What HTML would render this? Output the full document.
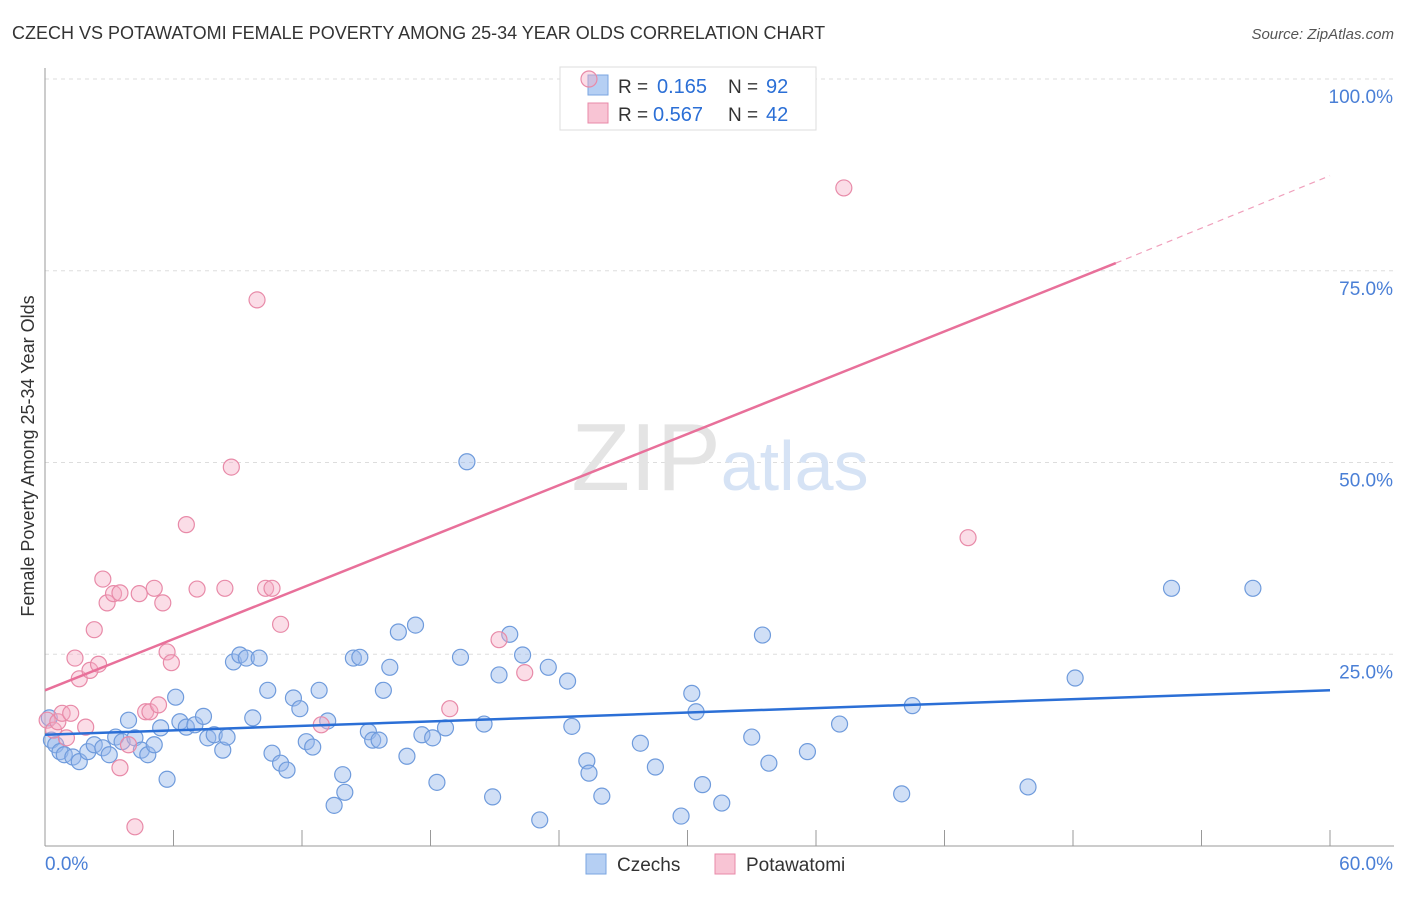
<!DOCTYPE html>
<html><head><meta charset="utf-8">
<style>
body{margin:0;background:#fff;font-family:"Liberation Sans",sans-serif;}
svg text{font-family:"Liberation Sans",sans-serif;}
</style></head>
<body>
<svg id="chart" width="1406" height="892" xmlns="http://www.w3.org/2000/svg">
<text x="12" y="39" font-size="18" fill="#333">CZECH VS POTAWATOMI FEMALE POVERTY AMONG 25-34 YEAR OLDS CORRELATION CHART</text>
<text x="1394" y="39" font-size="15" fill="#555" text-anchor="end" font-style="italic">Source: ZipAtlas.com</text>
<g id="grid"></g>
<g id="axes"></g>
<text x="720" y="490" font-size="96" text-anchor="middle" fill="#e4e4e4" font-family="Liberation Serif">ZIP<tspan fill="#d6e3f5" font-family="Liberation Sans" font-size="70">atlas</tspan></text>
<g>
<rect x="560" y="67" width="256" height="63" fill="#fff" stroke="#ddd"/>
<rect x="588" y="75" width="20" height="20" fill="#b5cff3" stroke="#7aa6e0"/>
<rect x="588" y="103" width="20" height="20" fill="#f8c4d4" stroke="#e88aa8"/>
<text x="618" y="93" font-size="19" fill="#333">R =</text>
<text x="657" y="93" font-size="20" fill="#2b6fd6">0.165</text>
<text x="728" y="93" font-size="19" fill="#333">N =</text>
<text x="766" y="93" font-size="20" fill="#2b6fd6">92</text>
<text x="618" y="121" font-size="19" fill="#333">R =</text>
<text x="653" y="121" font-size="20" fill="#2b6fd6">0.567</text>
<text x="728" y="121" font-size="19" fill="#333">N =</text>
<text x="766" y="121" font-size="20" fill="#2b6fd6">42</text>
</g>
<g id="points"></g>
<g id="lines"></g>
<text transform="translate(34,456) rotate(-90)" font-size="18" fill="#333" text-anchor="middle">Female Poverty Among 25-34 Year Olds</text>
<g>
<rect x="586" y="854" width="20" height="20" fill="#b5cff3" stroke="#7aa6e0"/>
<text x="617" y="871" font-size="19" fill="#333">Czechs</text>
<rect x="715" y="854" width="20" height="20" fill="#f8c4d4" stroke="#e88aa8"/>
<text x="746" y="871" font-size="19" fill="#333">Potawatomi</text>
</g>
</svg>
<script>
const czX=[0.2,0.3,0.5,0.7,0.9,1.3,1.6,2.0,2.3,2.7,3.0,3.3,3.6,3.9,4.2,4.5,4.8,5.1,5.4,5.7,6.1,6.3,6.6,7.0,7.4,7.6,7.9,8.3,8.5,8.8,9.1,9.4,9.7,10.0,10.4,10.6,11.0,11.3,11.6,11.9,12.2,12.5,12.8,13.2,13.5,13.9,14.0,14.4,14.7,15.1,15.3,15.6,15.8,16.1,16.5,16.9,17.3,17.6,18.1,18.3,18.7,19.4,19.7,20.5,20.9,21.2,21.7,22.3,23.1,23.5,24.4,24.6,25.3,25.4,26.0,27.8,28.5,29.7,30.2,30.4,30.7,31.6,33.0,33.5,33.8,35.6,37.1,40.0,40.5,45.9,48.1,52.6,56.4];
const czY=[16.7,13.8,13.2,12.3,11.9,11.6,11.0,12.3,13.2,12.8,11.9,14.2,13.6,16.4,14.1,12.5,11.9,13.2,15.4,8.7,19.4,16.2,15.5,15.8,16.9,14.1,14.5,12.5,14.2,24.0,24.9,24.5,16.7,24.5,20.3,12.1,10.8,9.9,19.3,17.9,13.6,12.9,20.3,16.3,5.3,9.3,7.0,24.5,24.6,14.9,13.8,13.8,20.3,23.3,27.9,11.7,28.8,14.5,14.1,8.3,15.4,24.6,50.1,15.9,6.4,22.3,27.6,24.9,3.4,23.3,21.5,15.6,11.1,9.5,6.5,13.4,10.3,3.9,19.9,17.5,8.0,5.6,14.2,27.5,10.8,12.3,15.9,6.8,18.3,7.7,21.9,33.6,33.6];
const poX=[0.1,0.4,0.6,0.8,1.0,1.2,1.4,1.6,1.9,2.1,2.3,2.5,2.7,2.9,3.2,3.5,3.5,3.9,4.2,4.4,4.7,4.9,5.1,5.3,5.5,5.7,5.9,6.6,7.1,8.4,8.7,9.9,10.3,10.6,11.0,12.9,18.9,21.2,22.4,25.4,37.3,43.1];
const poY=[16.4,15.1,16.2,17.3,14.1,17.3,24.5,21.8,15.5,22.9,28.2,23.7,34.8,31.7,32.9,33.0,10.2,13.2,2.5,32.9,17.5,17.5,33.6,18.4,31.7,25.3,23.9,41.9,33.5,33.6,49.4,71.2,33.6,33.6,28.9,15.8,17.9,26.9,22.6,100,85.8,40.2];
const czTrend=[14.5,20.3];
const poTrend=[20.3,76.0,87.4];
const yTicks=[25,50,75,100];
const yTickLabels=["25.0%","50.0%","75.0%","100.0%"];
const xTicks=[0,6,12,18,24,30,36,42,48,54,60];

const NS="http://www.w3.org/2000/svg";
const X=v=>45+v*(1330-45)/60;
const Y=v=>846-v*(846-79)/100;
function mk(tag,attrs,parent){const e=document.createElementNS(NS,tag);for(const k in attrs)e.setAttribute(k,attrs[k]);document.getElementById(parent).appendChild(e);return e;}

yTicks.forEach((t,i)=>{
  const l=mk('line',{x1:45,x2:1394,y1:Y(t),y2:Y(t),stroke:'#ddd','stroke-dasharray':'4,4'},'grid');
  
  
  const tx=mk('text',{x:1393,y:Y(t)+24,'font-size':19,fill:'#4a7fd6','text-anchor':'end'},'axes');
  tx.textContent=yTickLabels[i];
  
  
});
const ya=mk('line',{x1:45,x2:45,y1:68,y2:846,stroke:'#999'},'axes');


const xa=mk('line',{x1:45,x2:1394,y1:846,y2:846,stroke:'#999'},'axes');


xTicks.forEach(t=>{
  const l=mk('line',{x1:X(t),x2:X(t),y1:830,y2:846,stroke:'#999'},'axes');
  
  
});
const x0=mk('text',{x:45,y:870,'font-size':19,fill:'#4a7fd6'},'axes');x0.textContent='0.0%';


const x1=mk('text',{x:1393,y:870,'font-size':19,fill:'#4a7fd6','text-anchor':'end'},'axes');x1.textContent='60.0%';



czX.forEach((v,i)=>{
  const c=mk('circle',{cx:X(v),cy:Y(czY[i]),r:8,fill:'rgba(150,185,235,0.45)',stroke:'#6f9bdc','stroke-width':1.2},'points');
  
  
});
poX.forEach((v,i)=>{
  const c=mk('circle',{cx:X(v),cy:Y(poY[i]),r:8,fill:'rgba(245,170,195,0.4)',stroke:'#e88aa8','stroke-width':1.2},'points');
  
  
});
const bl=mk('line',{x1:X(0),y1:Y(czTrend[0]),x2:X(60),y2:Y(czTrend[1]),stroke:'#2b6fd6','stroke-width':2.5},'lines');


const pl=mk('line',{x1:X(0),y1:Y(poTrend[0]),x2:X(50),y2:Y(poTrend[1]),stroke:'#e8709a','stroke-width':2.5},'lines');


const pd=mk('line',{x1:X(50),y1:Y(poTrend[1]),x2:X(60),y2:Y(poTrend[2]),stroke:'#f0a0bc','stroke-width':1.2,'stroke-dasharray':'6,5'},'lines');


</script>
</body></html>
